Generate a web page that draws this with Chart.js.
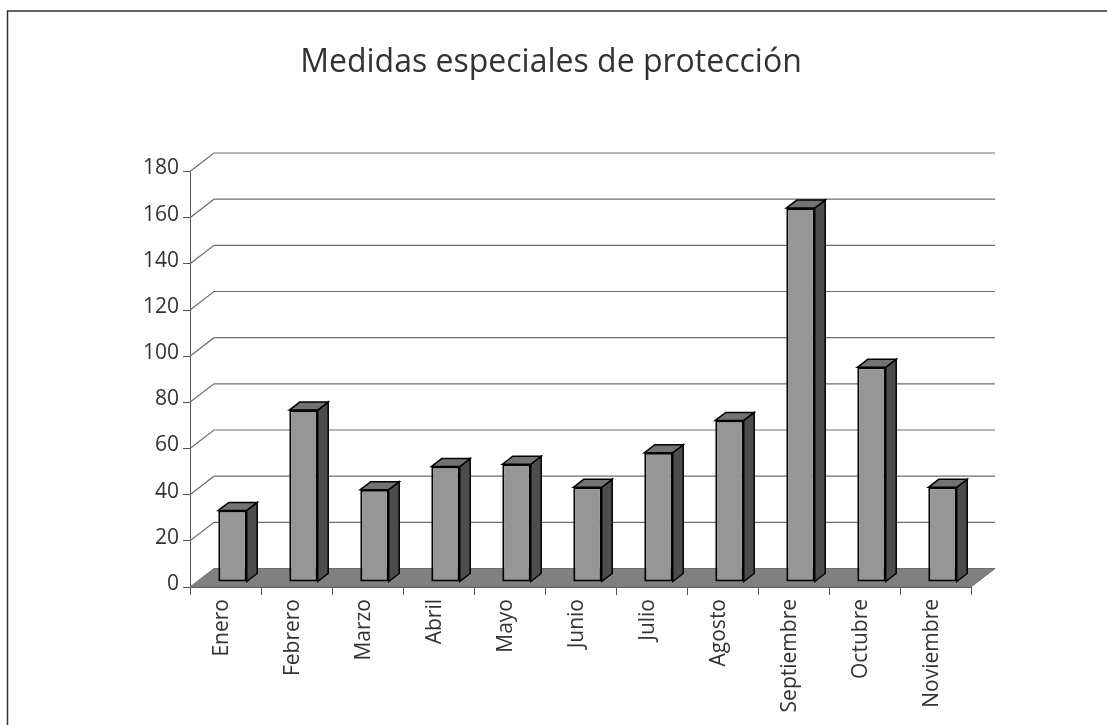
<!DOCTYPE html>
<html>
<head>
<meta charset="utf-8">
<style>
html,body{margin:0;padding:0;background:#fff;overflow:hidden}
#wrap{position:relative;width:1107px;height:725px}
</style>
<script src="https://cdn.jsdelivr.net/npm/chart.js@4/dist/chart.umd.js"></script>
</head>
<body>
<div id="wrap"><canvas id="chart" width="1107" height="725"></canvas></div>
<script>
const categories = ['Enero','Febrero','Marzo','Abril','Mayo','Junio','Julio','Agosto','Septiembre','Octubre','Noviembre']
const valores = [31,74.5,40,50,51,41,56,70,162,93,41]
const yMax = 180
const yStep = 20
const title = 'Medidas especiales de protección'

// depth of the fake 3d box
const wallDx = 24, wallDy = -18.5
const barDx = 7, barDy = -5
const sideDx = 10.5, sideDy = -8

const poly = (ctx, pts, fill, stroke, lw) => {
    ctx.beginPath()
    pts.forEach((p, i) => i ? ctx.lineTo(p[0], p[1]) : ctx.moveTo(p[0], p[1]))
    ctx.closePath()
    if (fill) { ctx.fillStyle = fill; ctx.fill() }
    if (stroke) { ctx.strokeStyle = stroke; ctx.lineWidth = lw; ctx.lineJoin = 'miter'; ctx.stroke() }
}

const box3d = {
    id: 'box3d',
    beforeDraw(chart) {
        const ctx = chart.ctx
        // outer frame, only top and left are visible
        ctx.save()
        ctx.strokeStyle = '#333'
        ctx.lineWidth = 1.5
        ctx.beginPath()
        ctx.moveTo(7.5, 725)
        ctx.lineTo(7.5, 11)
        ctx.lineTo(1107, 11)
        ctx.stroke()
        ctx.restore()
    },
    beforeDatasetsDraw(chart) {
        const ctx = chart.ctx
        const a = chart.chartArea
        const y = chart.scales.y
        ctx.save()
        // walls
        ctx.strokeStyle = '#6e6e6e'
        ctx.lineWidth = 1.2
        for (let v = yStep; v <= yMax; v += yStep) {
            const py = y.getPixelForValue(v)
            ctx.beginPath()
            ctx.moveTo(a.left, py)
            ctx.lineTo(a.left + wallDx, py + wallDy)
            ctx.lineTo(a.right + wallDx, py + wallDy)
            ctx.stroke()
        }
        // floor
        const y0 = y.getPixelForValue(0)
        poly(ctx, [[a.left, y0], [a.right, y0], [a.right + wallDx, y0 + wallDy], [a.left + wallDx, y0 + wallDy]], '#808080', '#6e6e6e', 1)
        ctx.restore()
    },
    beforeDatasetDraw(chart) {
        chart.ctx.save()
        chart.ctx.translate(barDx, barDy)
    },
    afterDatasetDraw(chart, args) {
        const ctx = chart.ctx
        args.meta.data.forEach(bar => {
            const p = bar.getProps(['x', 'y', 'base', 'width'], true)
            const l = p.x - p.width / 2, r = p.x + p.width / 2
            poly(ctx, [[r, p.y], [r + sideDx, p.y + sideDy], [r + sideDx, p.base + sideDy], [r, p.base]], '#4d4d4d', '#000', 1.5)
            poly(ctx, [[l, p.y], [l + sideDx, p.y + sideDy], [r + sideDx, p.y + sideDy], [r, p.y]], '#737373', '#000', 1.5)
        })
        ctx.restore()
    }
}

new Chart(document.getElementById('chart'), {
    type: 'bar',
    data: {
        labels: categories,
        datasets: [{
            label: 'Medidas',
            data: valores,
            backgroundColor: '#969696',
            borderColor: '#000',
            borderWidth: 2,
            borderSkipped: false,
            barPercentage: 0.4,
            categoryPercentage: 1,
            clip: false
        }]
    },
    options: {
        responsive: false,
        animation: false,
        layout: { padding: { left: 131, right: 136, top: 0, bottom: 0 } },
        plugins: {
            legend: { display: false },
            tooltip: { enabled: false },
            title: {
                display: true,
                text: title,
                color: '#333',
                font: { family: '"Open Sans"', size: 32, weight: 'normal' },
                padding: { top: 44, bottom: 89.1 }
            }
        },
        scales: {
            x: {
                grid: { drawOnChartArea: false, drawTicks: true, tickLength: 8, color: '#555' },
                border: { color: '#555' },
                ticks: { minRotation: 90, maxRotation: 90, color: '#333', padding: 4, labelOffset: -3, font: { family: '"Open Sans"', size: 21 } },
                afterFit(s) { s.height = 138 }
            },
            y: {
                min: 0,
                max: yMax,
                grid: { drawOnChartArea: false, drawTicks: true, tickLength: 7, color: '#555' },
                border: { color: '#555' },
                ticks: { stepSize: yStep, color: '#333', padding: 4, labelOffset: -3, font: { family: '"Open Sans"', size: 21 } },
                afterFit(s) { s.width = 59 }
            }
        }
    },
    plugins: [box3d]
})
</script>
</body>
</html>
